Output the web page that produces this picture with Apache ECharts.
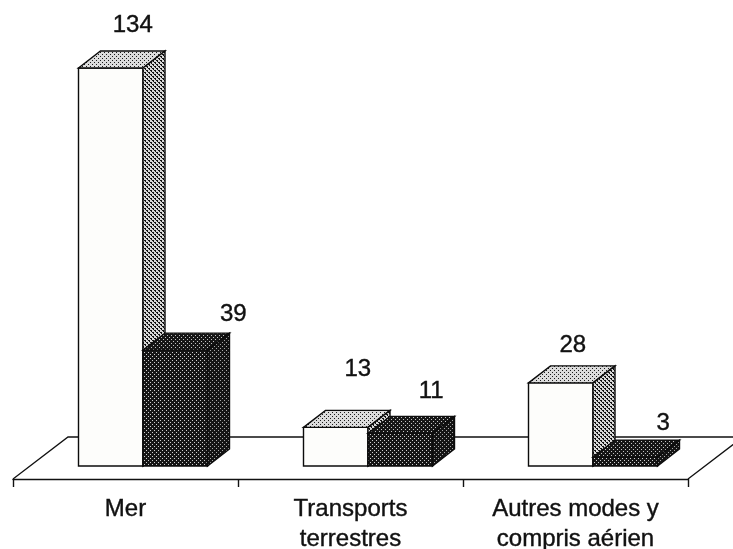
<!DOCTYPE html>
<html>
<head>
<meta charset="utf-8">
<style>html,body{margin:0;padding:0;background:#fff}#c{width:733px;height:549px}</style>
<script src="https://cdn.jsdelivr.net/npm/echarts@6/dist/echarts.min.js"></script>
</head>
<body>
<div id="c"></div>
<script>
const categories = ['Mer', 'Transports\nterrestres', 'Autres modes y\ncompris aérien'];
const lightValues = [134, 13, 28];
const darkValues = [39, 11, 3];

// Hand placement of the value labels around each bar: [dx, dy] from the default spot
const lightLabelNudge = [[0, -7], [0, -22], [-10, -1]];
const darkLabelNudge = [[36, 0], [9, -6], [16, 2]];

function tile(bg, fg, cells) {
  const n = 4, cv = document.createElement('canvas');
  cv.width = cv.height = n;
  const g = cv.getContext('2d');
  g.fillStyle = bg; g.fillRect(0, 0, n, n);
  g.fillStyle = fg;
  cells.forEach(c => g.fillRect(c[0], c[1], c[2] || 1, c[3] || 1));
  return { image: cv, repeat: 'repeat' };
}
const fills = {
  lightFront: '#fdfdfb',
  lightTop: tile('#dcdcdc', '#1c1c1c', [[0, 0], [2, 2]]),
  lightSide: tile('#d8d8d8', '#111', [[0, 0, 2, 1], [2, 2, 2, 1], [1, 1], [3, 3]]),
  darkFront: tile('#161616', '#d0d0d0', [[0, 0], [2, 2]]),
  darkTop: tile('#161616', '#c4c4c4', [[1, 1], [3, 3]]),
  darkSide: tile('#141414', '#a8a8a8', [[0, 0], [2, 2]])
};

const BAR = 64.5, DX = 22, DY = 17, SHIFT = 17.5;
const FLOOR_FRONT = 13, FLOOR_BACK = 29, FLOOR_DX = 55;
const TEXT = '#111', FONT = '24px "Liberation Sans", Arial, sans-serif';

function poly(points, fill) {
  return {
    type: 'polygon',
    shape: { points },
    style: { fill, stroke: '#0c0c0c', lineWidth: 1.4, lineJoin: 'miter' }
  };
}

function barRenderer(side, frontFill, topFill, sideFill, nudges) {
  return function (params, api) {
    const i = api.value(0), v = api.value(1);
    const base = api.coord([i, 0]), top = api.coord([i, v]);
    const centre = base[0] + SHIFT;
    const l = side < 0 ? centre - BAR : centre;
    const r = l + BAR;
    const y0 = base[1], y1 = top[1];
    const n = nudges[params.dataIndex];
    return {
      type: 'group',
      children: [
        poly([[l, y1], [r, y1], [r, y0], [l, y0]], frontFill),
        poly([[l, y1], [l + DX, y1 - DY], [r + DX, y1 - DY], [r, y1]], topFill),
        poly([[r, y1], [r + DX, y1 - DY], [r + DX, y0 - DY], [r, y0]], sideFill),
        {
          type: 'text',
          style: {
            text: String(v),
            x: (l + r) / 2 + DX + n[0],
            y: y1 - DY - 19 + n[1],
            font: FONT,
            fill: TEXT,
            stroke: TEXT,
            lineWidth: 0.4,
            align: 'center',
            verticalAlign: 'middle'
          }
        }
      ]
    };
  };
}

function floorRenderer(params) {
  const c = params.coordSys;
  const front = c.y + c.height + FLOOR_FRONT, back = c.y + c.height - FLOOR_BACK;
  const xl = c.x, xr = c.x + c.width;
  return {
    type: 'polyline',
    shape: { points: [[xl, front], [xl + FLOOR_DX, back], [xr + FLOOR_DX, back], [xr, front]] },
    style: { fill: 'none', stroke: '#111', lineWidth: 1.3 }
  };
}

const chart = echarts.init(document.getElementById('c'), null, { renderer: 'canvas' });
chart.setOption({
  animation: false,
  backgroundColor: '#fff',
  grid: { left: 13, width: 675, top: 20.5, height: 445.5, containLabel: false, outerBoundsMode: 'none' },
  xAxis: {
    type: 'category',
    data: categories,
    offset: 13,
    boundaryGap: true,
    axisLine: { show: true, onZero: false, lineStyle: { color: '#111', width: 1.4 } },
    axisTick: { show: true, length: 8, alignWithLabel: false, lineStyle: { color: '#111', width: 1.4 } },
    axisLabel: { show: true, interval: 0, color: TEXT, fontSize: 24, fontFamily: '"Liberation Sans", Arial, sans-serif', lineHeight: 30, margin: 15, textBorderColor: TEXT, textBorderWidth: 0.4 },
    splitLine: { show: false }
  },
  yAxis: { type: 'value', min: 0, max: 150, show: false, splitLine: { show: false } },
  series: [
    { type: 'custom', name: 'floor', silent: true, z: 1, clip: false, data: [[0, 0]], renderItem: floorRenderer },
    {
      type: 'custom', name: 'light', silent: true, z: 2, clip: false,
      data: lightValues.map((v, i) => [i, v]),
      encode: { x: 0, y: 1 },
      renderItem: barRenderer(-1, fills.lightFront, fills.lightTop, fills.lightSide, lightLabelNudge)
    },
    {
      type: 'custom', name: 'dark', silent: true, z: 3, clip: false,
      data: darkValues.map((v, i) => [i, v]),
      encode: { x: 0, y: 1 },
      renderItem: barRenderer(1, fills.darkFront, fills.darkTop, fills.darkSide, darkLabelNudge)
    }
  ]
});
</script>
</body>
</html>
